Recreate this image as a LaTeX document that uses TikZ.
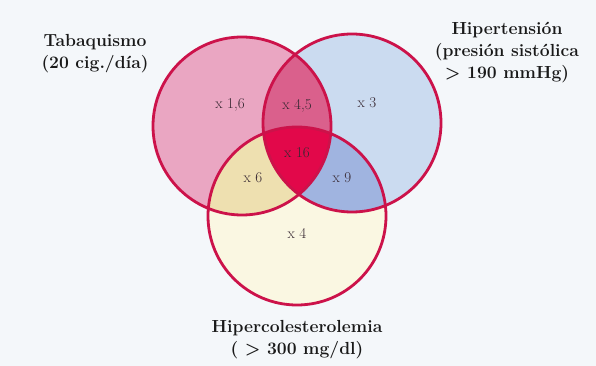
\documentclass[tikz,border=0pt]{standalone}
\usepackage{amsmath}

\definecolor{backg}{RGB}{244,247,250}
\definecolor{rimred}{RGB}{204,18,74}
\definecolor{tabfill}{RGB}{234,166,194}
\definecolor{hipfill}{RGB}{203,219,240}
\definecolor{colfill}{RGB}{250,247,226}
\definecolor{tabhip}{RGB}{218,96,140}
\definecolor{tabcol}{RGB}{238,224,176}
\definecolor{hipcol}{RGB}{160,180,224}
\definecolor{allthree}{RGB}{226,8,74}
\definecolor{labtxt}{RGB}{55,40,50}

\begin{document}
\begin{tikzpicture}[x=1pt, y=-1pt,
  rim/.style={draw=rimred, line width=2.8pt},
  title/.style={align=center, text=black!90, font=\fontsize{17.5}{22}\selectfont\bfseries},
  factor/.style={text=labtxt, font=\fontsize{15}{17}\selectfont}]
  \fill[backg] (0,0) rectangle (596,366);
  \useasboundingbox (0,0) rectangle (596,366);

  \coordinate (tab) at (242,126);
  \coordinate (hip) at (352,123);
  \coordinate (col) at (297,216);

  \fill[tabfill] (tab) circle (89pt);
  \fill[hipfill] (hip) circle (89pt);
  \fill[colfill] (col) circle (89pt);

  \begin{scope}
    \clip (tab) circle (89pt);
    \fill[tabhip] (hip) circle (89pt);
    \fill[tabcol] (col) circle (89pt);
  \end{scope}
  \begin{scope}
    \clip (hip) circle (89pt);
    \fill[hipcol] (col) circle (89pt);
  \end{scope}
  \begin{scope}
    \clip (tab) circle (89pt);
    \clip (hip) circle (89pt);
    \fill[allthree] (col) circle (89pt);
  \end{scope}

  \draw[rim] (tab) circle (89pt);
  \draw[rim] (hip) circle (89pt);
  \draw[rim] (col) circle (89pt);

  \node[factor] (f1) at (230,105) {x 1,6};
  \node[factor] (f2) at (297,106) {x 4,5};
  \node[factor] (f3) at (367,103) {x 3};
  \node[factor] (f4) at (297,153) {x 16};
  \node[factor] (f5) at (253,178) {x 6};
  \node[factor] (f6) at (342,178) {x 9};
  \node[factor] (f7) at (297,233) {x 4};

  \node[title] (tabname) at (95,54) {Tabaquismo\\(20 cig./día)};
  \node[title] (hipname) at (507,53) {Hipertensión\\(presión sistólica\\> 190 mmHg)};
  \node[title] (colname) at (297,340) {Hipercolesterolemia\\( > 300 mg/dl)};
\end{tikzpicture}
\end{document}
